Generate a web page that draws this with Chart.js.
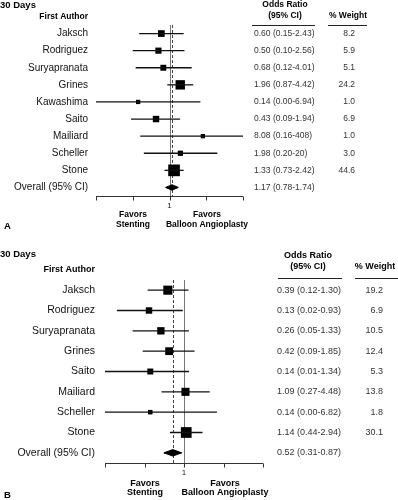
<!DOCTYPE html>
<html>
<head>
<meta charset="utf-8">
<script src="https://cdn.jsdelivr.net/npm/chart.js@4"></script>
<style>
  body { margin: 0; background: #fff; }
  canvas { display: block; }
</style>
</head>
<body>
<canvas id="panelA" width="398" height="250"></canvas>
<canvas id="panelB" width="398" height="250"></canvas>
<script>
// panel A data
const authorsA = ['Jaksch', 'Rodriguez', 'Suryapranata', 'Grines', 'Kawashima', 'Saito', 'Mailiard', 'Scheller', 'Stone'];
const orA      = [0.60, 0.50, 0.68, 1.96, 0.14, 0.43, 8.08, 1.98, 1.33];
const lowA     = [0.15, 0.10, 0.12, 0.87, 0.00, 0.09, 0.16, 0.20, 0.73];
const highA    = [2.43, 2.56, 4.01, 4.42, 6.94, 1.94, 408, 20, 2.42];
const weightA  = [8.2, 5.9, 5.1, 24.2, 1.0, 6.9, 1.0, 3.0, 44.6];
const overallA = [1.17, 0.78, 1.74];

// panel B data
const authorsB = ['Jaksch', 'Rodriguez', 'Suryapranata', 'Grines', 'Saito', 'Mailiard', 'Scheller', 'Stone'];
const orB      = [0.39, 0.13, 0.26, 0.42, 0.14, 1.09, 0.14, 1.14];
const lowB     = [0.12, 0.02, 0.05, 0.09, 0.01, 0.27, 0.00, 0.44];
const highB    = [1.30, 0.93, 1.33, 1.85, 1.34, 4.48, 6.82, 2.94];
const weightB  = [19.2, 6.9, 10.5, 12.4, 5.3, 13.8, 1.8, 30.1];
const overallB = [0.52, 0.31, 0.87];

const xTicks = [0.01, 0.1, 1, 10, 100];
const X_MIN = 0.01, X_MAX = 100;
const FONT = "'Liberation Sans', Arial, sans-serif";

function fmt(v){
  return v >= 10 ? String(v) : v.toFixed(2);
}

function makePanel(id, d, lay){
  const n = d.authors.length;
  const datasets = [];
  // CI lines
  for(let i=0;i<n;i++){
    datasets.push({
      data: [{x: Math.max(d.low[i], X_MIN), y: i}, {x: d.high[i], y: i}],
      borderColor: '#111', borderWidth: 1.3, pointRadius: 0, fill: false
    });
  }
  // weighted squares
  datasets.push({
    data: d.or.map((v, i) => ({x: v, y: i})),
    showLine: false,
    pointStyle: 'rect',
    pointRadius: d.weight.map(w => (lay.sq0 + lay.sq * Math.sqrt(w)) / Math.SQRT2),
    backgroundColor: '#000', borderWidth: 0
  });
  // overall diamond
  const [est, lo, hi] = d.overall;
  datasets.push({
    data: [{x: lo, y: n}, {x: est, y: n - 0.16}, {x: hi, y: n}, {x: est, y: n + 0.16}, {x: lo, y: n}],
    borderColor: '#000', borderWidth: 1, backgroundColor: '#000',
    pointRadius: 0, fill: 'shape', tension: 0
  });
  if(lay.overallLine){
    datasets.push({
      data: [{x: lo, y: n}, {x: hi, y: n}],
      borderColor: '#000', borderWidth: 1.3, pointRadius: 0, fill: false
    });
  }

  const refLines = {
    id: 'refLines',
    beforeDatasetsDraw(chart){
      const ctx = chart.ctx, xs = chart.scales.x, a = chart.chartArea;
      ctx.save();
      let px = Math.round(xs.getPixelForValue(1)) + 0.5;
      ctx.strokeStyle = '#777'; ctx.lineWidth = 1;
      ctx.beginPath(); ctx.moveTo(px, a.top); ctx.lineTo(px, a.bottom); ctx.stroke();
      px = Math.round(xs.getPixelForValue(est)) + 0.5;
      ctx.strokeStyle = '#444'; ctx.setLineDash([3, 2]);
      ctx.beginPath(); ctx.moveTo(px, a.top); ctx.lineTo(px, a.bottom); ctx.stroke();
      ctx.restore();
    },
    afterDraw(chart){
      const ctx = chart.ctx, xs = chart.scales.x, ys = chart.scales.y, a = chart.chartArea;
      ctx.save();
      // x axis
      const ay = Math.round(a.bottom) + 0.5;
      ctx.strokeStyle = '#333'; ctx.lineWidth = 1;
      ctx.beginPath(); ctx.moveTo(a.left, ay); ctx.lineTo(a.right, ay);
      for(const t of xTicks){
        const px = Math.round(xs.getPixelForValue(t)) + 0.5;
        ctx.moveTo(px, ay); ctx.lineTo(px, ay + 4);
      }
      ctx.stroke();
      ctx.fillStyle = '#222'; ctx.textAlign = 'center'; ctx.textBaseline = 'middle';
      ctx.font = `8px ${FONT}`;
      ctx.fillText('1', xs.getPixelForValue(1), lay.oneY);

      // titles
      ctx.font = `bold ${lay.titleFont}px ${FONT}`;
      ctx.textAlign = 'left'; ctx.fillStyle = '#000';
      ctx.fillText('30 Days', 0, lay.titleY);
      ctx.fillText(lay.letter, 4, lay.letterY);
      ctx.font = `bold ${lay.hdrFont}px ${FONT}`;
      ctx.textAlign = 'right';
      ctx.fillText('First Author', lay.nameX, ys.getPixelForValue(-1));
      ctx.textAlign = 'center';
      ctx.fillText('Odds Ratio', lay.orHdrX, lay.hdrY1);
      ctx.fillText('(95% CI)', lay.orHdrX, lay.hdrY2);
      ctx.fillText('% Weight', lay.wtHdrX, lay.hdrY2);
      ctx.strokeStyle = '#222';
      ctx.beginPath();
      ctx.moveTo(lay.hdrLine1[0], lay.lineY + 0.5); ctx.lineTo(lay.hdrLine1[1], lay.lineY + 0.5);
      ctx.moveTo(lay.hdrLine2[0], lay.lineY + 0.5); ctx.lineTo(lay.hdrLine2[1], lay.lineY + 0.5);
      ctx.stroke();
      ctx.font = `bold ${lay.favFont}px ${FONT}`;
      ctx.fillText('Favors', lay.favLX, lay.favY1);
      ctx.fillText('Stenting', lay.favLX, lay.favY2);
      ctx.fillText('Favors', lay.favRX, lay.favY1);
      ctx.fillText('Balloon Angioplasty', lay.favRX, lay.favY2);

      // rows
      for(let i=0;i<=n;i++){
        const y = ys.getPixelForValue(i);
        ctx.font = `${lay.nameFont}px ${FONT}`;
        ctx.textAlign = 'right'; ctx.fillStyle = '#111';
        ctx.fillText(i < n ? d.authors[i] : 'Overall (95% CI)', lay.nameX, y);
        ctx.font = `${lay.valFont}px ${FONT}`;
        ctx.fillStyle = '#333'; ctx.textAlign = 'left';
        const v = i < n ? [d.or[i], d.low[i], d.high[i]] : [est, lo, hi];
        ctx.fillText(`${fmt(v[0])} (${fmt(v[1])}-${fmt(v[2])})`, lay.valX, y);
        if(i < n){
          ctx.textAlign = 'right';
          ctx.fillText(d.weight[i].toFixed(1), lay.wtX, y);
        }
      }
      ctx.restore();
    }
  };

  return new Chart(document.getElementById(id), {
    type: 'line',
    data: { datasets },
    options: {
      responsive: false,
      animation: false,
      layout: { padding: lay.pad },
      plugins: { legend: { display: false }, tooltip: { enabled: false } },
      scales: {
        x: { type: 'logarithmic', min: X_MIN, max: X_MAX, display: false },
        y: { type: 'linear', min: -0.5, max: n + 0.5, reverse: true, display: false }
      }
    },
    plugins: [refLines]
  });
}

makePanel('panelA',
  { authors: authorsA, or: orA, low: lowA, high: highA, weight: weightA, overall: overallA },
  { pad: {left: 96, right: 155, top: 25, bottom: 54}, sq0: 3, sq: 1.3, overallLine: false,
    letter: 'A', titleY: 5, titleFont: 9.5, letterY: 226, oneY: 206,
    hdrFont: 8.5, nameX: 88, nameFont: 10, valX: 254, valFont: 8.5, wtX: 355,
    orHdrX: 285, wtHdrX: 348, hdrY1: 5, hdrY2: 16, lineY: 25,
    hdrLine1: [252, 315], hdrLine2: [328, 367],
    favFont: 8.5, favLX: 133, favRX: 207, favY1: 215, favY2: 225 });

makePanel('panelB',
  { authors: authorsB, or: orB, low: lowB, high: highB, weight: weightB, overall: overallB },
  { pad: {left: 105, right: 135, top: 30, bottom: 37}, sq0: 2.5, sq: 1.5, overallLine: true,
    letter: 'B', titleY: 4, titleFont: 9.5, letterY: 245, oneY: 223,
    hdrFont: 9, nameX: 95, nameFont: 10.5, valX: 277, valFont: 9, wtX: 383,
    orHdrX: 308, wtHdrX: 375, hdrY1: 6, hdrY2: 17, lineY: 28,
    hdrLine1: [278, 342], hdrLine2: [355, 398],
    favFont: 9, favLX: 145, favRX: 225, favY1: 234, favY2: 243 });
</script>
</body>
</html>
